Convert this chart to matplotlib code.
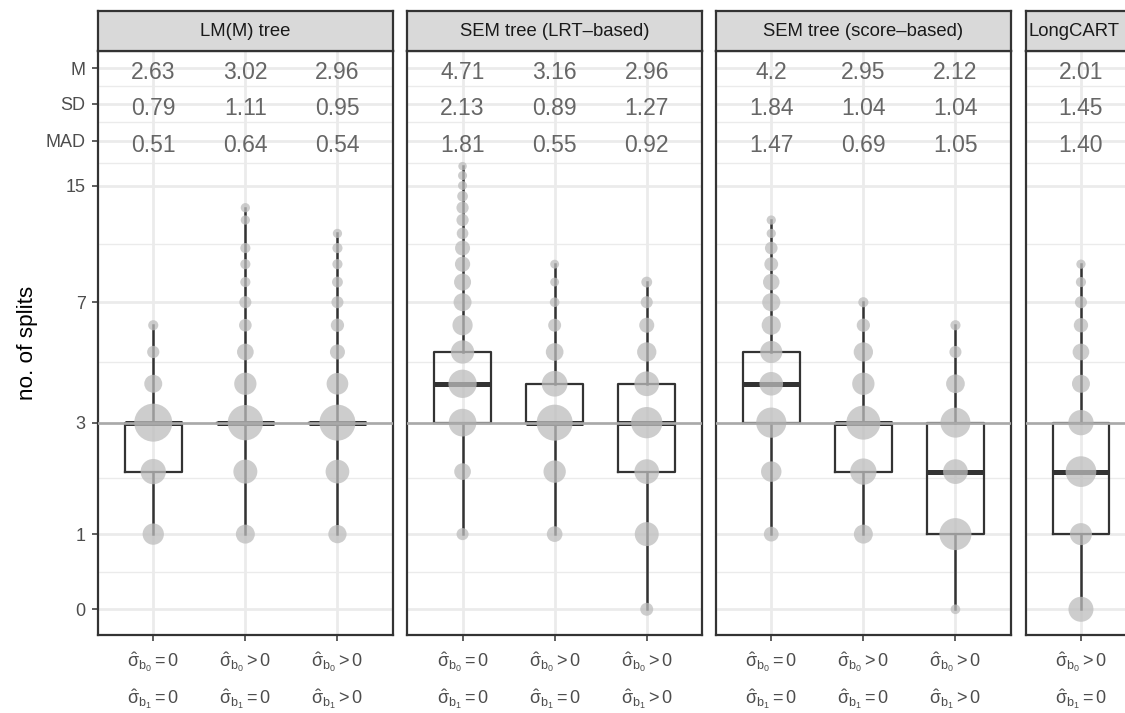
import numpy as np
import matplotlib.pyplot as plt

plt.rcParams['font.family'] = ['Liberation Sans', 'DejaVu Sans']
plt.rcParams['mathtext.fontset'] = 'custom'
plt.rcParams['mathtext.rm'] = 'Liberation Sans'
plt.rcParams['mathtext.it'] = 'Liberation Sans'
plt.rcParams['mathtext.default'] = 'regular'

# facets
methods = ['LM(M) tree', 'SEM tree (LRT\u2013based)', 'SEM tree (score\u2013based)', 'LongCART']

# random-effect conditions on the x axis
b0_cond = ['=', '>', '>']
b1_cond = ['=', '=', '>']

# number of splits found and share of replications (%) for each value
lmm_splits = [[1, 2, 3, 4, 5, 6],
              [1, 2, 3, 4, 5, 6, 7, 8, 9, 10, 12, 13],
              [1, 2, 3, 4, 5, 6, 7, 8, 9, 10, 11]]
lmm_share = [[11.5, 19.8, 61.0, 6.3, 1.0, 0.2],
             [7.7, 16.8, 50.3, 13.3, 4.7, 1.2, 0.9, 0.2, 0.2, 0.2, 0.05, 0.05],
             [6.7, 16.2, 53.0, 12.2, 3.0, 1.6, 0.9, 0.4, 0.2, 0.2, 0.05]]
lrt_splits = [[1, 2, 3, 4, 5, 6, 7, 8, 9, 10, 11, 12, 13, 14, 15, 16, 17],
              [1, 2, 3, 4, 5, 6, 7, 8, 9],
              [0, 1, 2, 3, 4, 5, 6, 7, 8]]
lrt_share = [[0.9, 4.7, 25.8, 27.5, 15.4, 9.6, 6.3, 5.1, 3.2, 3.0, 0.7, 1.0, 1.0, 0.35, 0.03, 0.03, 0.01],
             [3.6, 13.4, 53.0, 20.7, 5.9, 1.4, 0.1, 0.02, 0.02],
             [1.4, 16.8, 18.4, 36.4, 18.4, 8.2, 3.0, 0.9, 0.4]]
score_splits = [[1, 2, 3, 4, 5, 6, 7, 8, 9, 10, 11, 12],
                [1, 2, 3, 4, 5, 6, 7],
                [0, 1, 2, 3, 4, 5, 6]]
score_share = [[2.8, 10.0, 33.0, 16.0, 13.0, 8.0, 6.5, 4.5, 2.0, 1.2, 0.05, 0.05],
               [7.7, 22.2, 45.6, 13.4, 8.2, 1.6, 0.2],
               [0.1, 38.7, 18.4, 32.4, 7.3, 0.9, 0.2]]
lcart_splits = [[0, 1, 2, 3, 4, 5, 6, 7, 8, 9]]
lcart_share = [[19.1, 12.8, 34.5, 19.8, 6.3, 4.7, 2.4, 0.9, 0.2, 0.05]]

# box summaries: lower whisker, Q1, median, Q3, upper whisker
lmm_box = [[1, 2, 3, 3, 6], [1, 3, 3, 3, 13], [1, 3, 3, 3, 11]]
lrt_box = [[1, 3, 4, 5, 17], [1, 3, 3, 4, 9], [0, 2, 3, 4, 8]]
score_box = [[1, 3, 4, 5, 12], [1, 2, 3, 3, 7], [0, 1, 2, 3, 6]]
lcart_box = [[0, 1, 2, 3, 9]]

# summary rows printed on top of each panel
lmm_m, lmm_sd, lmm_mad = ['2.63', '3.02', '2.96'], ['0.79', '1.11', '0.95'], ['0.51', '0.64', '0.54']
lrt_m, lrt_sd, lrt_mad = ['4.71', '3.16', '2.96'], ['2.13', '0.89', '1.27'], ['1.81', '0.55', '0.92']
score_m, score_sd, score_mad = ['4.2', '2.95', '2.12'], ['1.84', '1.04', '1.04'], ['1.47', '0.69', '1.05']
lcart_m, lcart_sd, lcart_mad = ['2.01'], ['1.45'], ['1.40']

panels = [
    (methods[0], [0, 1, 2], lmm_splits, lmm_share, lmm_box, (lmm_m, lmm_sd, lmm_mad)),
    (methods[1], [0, 1, 2], lrt_splits, lrt_share, lrt_box, (lrt_m, lrt_sd, lrt_mad)),
    (methods[2], [0, 1, 2], score_splits, score_share, score_box, (score_m, score_sd, score_mad)),
    (methods[3], [1], lcart_splits, lcart_share, lcart_box, (lcart_m, lcart_sd, lcart_mad)),
]

# pseudo-log axis
def fwd(y):
    return np.arcsinh(np.asarray(y, dtype=float) / 2)

def inv(t):
    return 2 * np.sinh(np.asarray(t, dtype=float))

row_y = [31.9, 25.36, 20.03]  # M, SD, MAD rows
y_major = [0, 1, 3, 7, 15] + row_y[::-1]
y_labels = ['0', '1', '3', '7', '15', 'MAD', 'SD', 'M']
t_major = fwd(sorted(y_major))
y_minor = inv((t_major[:-1] + t_major[1:]) / 2)

all_share = np.concatenate([np.ravel(s) for p in panels for s in p[3]])
smin, smax = all_share.min(), all_share.max()

def point_area(share):
    d_px = 8.5 + 29.5 * np.sqrt((np.asarray(share) - smin) / (smax - smin))
    return (d_px * 0.72) ** 2

W, H = 1125, 713
fig = plt.figure(figsize=(W / 100, H / 100), dpi=100)
lefts = [98, 407.3, 716, 1025.7]
pw = 294.7
ptop, pbot, stop = 51.3, 635.3, 11
dark = '#333333'

for k, (name, conds, splits, shares, boxes, rows) in enumerate(panels):
    l = lefts[k]
    ax = fig.add_axes([l / W, 1 - pbot / H, pw / W, (pbot - ptop) / H])
    ax.set_yscale('function', functions=(fwd, inv))
    ax.set_ylim(inv(-0.1665), inv(3.572))
    ax.set_xlim(-0.6, 2.6)
    pos = list(range(len(conds)))

    ax.set_yticks(y_major)
    ax.set_yticks(y_minor, minor=True)
    ax.set_xticks(pos)
    ax.set_axisbelow(True)
    ax.grid(which='major', color='#EBEBEB', lw=2.0)
    ax.grid(which='minor', axis='y', color='#EBEBEB', lw=1.0)
    ax.tick_params(which='minor', left=False, bottom=False)
    ax.tick_params(axis='x', length=4.3, width=1.1, color=dark, labelbottom=False)
    if k == 0:
        ax.set_yticklabels(y_labels)
        ax.tick_params(axis='y', length=4.3, width=1.1, color=dark,
                       labelsize=13, labelcolor='#4D4D4D', pad=4.6)
    else:
        ax.tick_params(axis='y', left=False, labelleft=False)
    for sp in ax.spines.values():
        sp.set_color(dark)
        sp.set_linewidth(1.6)

    stats = [dict(whislo=b[0], q1=b[1], med=b[2], q3=b[3], whishi=b[4]) for b in boxes]
    ax.bxp(stats, positions=pos, widths=0.615, showcaps=False, showfliers=False,
           manage_ticks=False, zorder=2,
           boxprops=dict(color=dark, lw=1.6),
           whiskerprops=dict(color=dark, lw=1.8),
           medianprops=dict(color=dark, lw=3.6, solid_capstyle='butt'))

    for x, v, s in zip(pos, splits, shares):
        ax.scatter([x] * len(v), v, s=point_area(s), color='#BDBDBD', alpha=0.75,
                   edgecolors='none', zorder=3)

    ax.axhline(3, color='#A9A9A9', lw=1.9, zorder=4)

    for vals, y in zip(rows, row_y):
        for x, txt in zip(pos, vals):
            ax.annotate(txt, xy=(x, y), xytext=(0, -7.9), textcoords='offset points',
                        ha='center', va='baseline', fontsize=16.5, color='#666666')

    for x, c in zip(pos, conds):
        ax.annotate(r'$\hat{\sigma}_{b_0} %s 0$' % b0_cond[c], xy=(x, 0),
                    xycoords=('data', 'axes fraction'), xytext=(0, -19.6),
                    textcoords='offset points', ha='center', va='center',
                    fontsize=13, color='#4D4D4D', annotation_clip=False)
        ax.annotate(r'$\hat{\sigma}_{b_1} %s 0$' % b1_cond[c], xy=(x, 0),
                    xycoords=('data', 'axes fraction'), xytext=(0, -46.0),
                    textcoords='offset points', ha='center', va='center',
                    fontsize=13, color='#4D4D4D', annotation_clip=False)

    # facet strip
    sax = fig.add_axes([l / W, 1 - ptop / H, pw / W, (ptop - stop) / H])
    sax.set_facecolor('#D9D9D9')
    sax.set_xticks([])
    sax.set_yticks([])
    for sp in sax.spines.values():
        sp.set_color(dark)
        sp.set_linewidth(1.6)
    if k < 3:
        sax.text(0.5, 0.5, name, ha='center', va='center', fontsize=13.3,
                 color='#1A1A1A', transform=sax.transAxes)
    else:
        sax.text(2.5 / pw, 0.5, name, ha='left', va='center', fontsize=13.3,
                 color='#1A1A1A', transform=sax.transAxes)

fig.text(27 / W, 1 - 343 / H, 'no. of splits', rotation=90, ha='center',
         va='center', fontsize=16.2, color='black')

fig.savefig('out.png', dpi=100)
plt.close(fig)
